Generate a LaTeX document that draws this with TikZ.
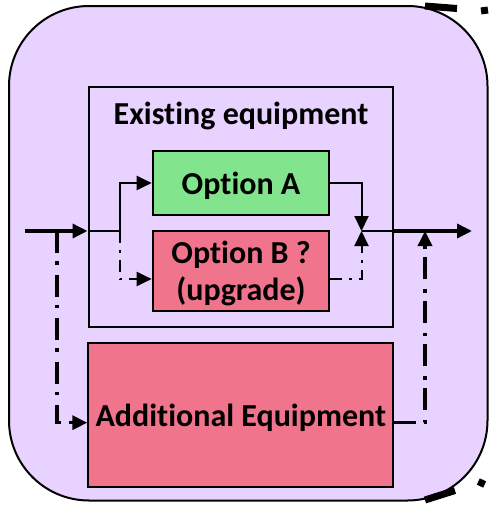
\documentclass[tikz,border=0pt]{standalone}
\usepackage{fontspec}
\setmainfont{Carlito}[Ligatures=NoCommon]
\usetikzlibrary{arrows.meta}
\definecolor{bgpurple}{RGB}{232,210,255}
\definecolor{boxgreen}{RGB}{130,228,140}
\definecolor{boxpink}{RGB}{240,116,140}
\tikzset{
  boxstyle/.style={draw=black, line width=2pt, inner sep=0pt, text depth=0pt, font=\bfseries\fontsize{32}{37}\selectfont, align=center},
  thinline/.style={line width=2pt},
  thickline/.style={line width=3.5pt},
  thindd/.style={line width=2pt, dash pattern=on 12pt off 7pt on 2.5pt off 7pt},
  thickdd/.style={line width=3.5pt, dash pattern=on 22pt off 8pt on 3.5pt off 10pt},
  tip/.style={-{Triangle[length=15pt,width=14pt]}},
  deco/.style={line width=7pt, line cap=butt}
}
\begin{document}
\begin{tikzpicture}[x=1pt,y=-1pt]
\useasboundingbox (0,0) rectangle (489,506);
% outer background
\draw[fill=bgpurple, line width=2pt, rounded corners=80pt] (9,6) rectangle (487.5,500.5);
% partial dash-dot outline outside
\draw[deco] (425,6) -- (457,8.5);
\fill[rotate around={8:(484.5,10.5)}] (481,7) rectangle (488,14);
\draw[deco] (425,500) -- (455,490.5);
\fill[rotate around={-25:(481.5,483)}] (478,479.5) rectangle (485,486.5);
% boxes
\node[boxstyle, minimum width=304.5pt, minimum height=240pt] (existing) at (240.75,206.7) {};
\node[font=\bfseries\fontsize{32}{37}\selectfont, inner sep=0pt, text depth=0pt] (title) at (241,113) {Existing equipment};
\node[boxstyle, fill=boxgreen, minimum width=176.6pt, minimum height=64.3pt] (optA) at (241,183) {Option A};
\node[boxstyle, fill=boxpink, minimum width=176.6pt, minimum height=80pt] (optB) at (241,270.7) {Option B ?\\(upgrade)};
\node[boxstyle, fill=boxpink, minimum width=305pt, minimum height=144pt] (addl) at (240.75,415) {Additional Equipment};
% coordinates
\coordinate (in) at (25,231);
\coordinate (split) at (120,231);
\coordinate (branch) at (57,231);
\coordinate (merge) at (361.5,231);
\coordinate (join) at (425,231);
\coordinate (out) at (472,231);
\coordinate (bin) at ([yshift=-8.3pt]optB.west);
\coordinate (bout) at ([yshift=-8.3pt]optB.east);
\coordinate (ain) at ([yshift=-7.7pt]addl.west);
\coordinate (aout) at ([yshift=-7.7pt]addl.east);
% connectors
\draw[thickline, tip] (in) -- (in -| existing.west);
\draw[thinline] (in -| existing.west) -- (split);
\draw[thinline, tip] (split) |- (optA.west);
\draw[thindd, tip] (split) |- (bin);
\draw[thinline, tip] (optA.east) -| (merge);
\draw[thindd, tip] (bout) -| (merge);
\draw[thinline] (merge) -- (merge -| existing.east);
\draw[thickline, tip] (merge -| existing.east) -- (out);
\draw[thickdd, tip] (branch) |- (ain);
\draw[thickdd, tip] (aout) -| (join);
\end{tikzpicture}
\end{document}
